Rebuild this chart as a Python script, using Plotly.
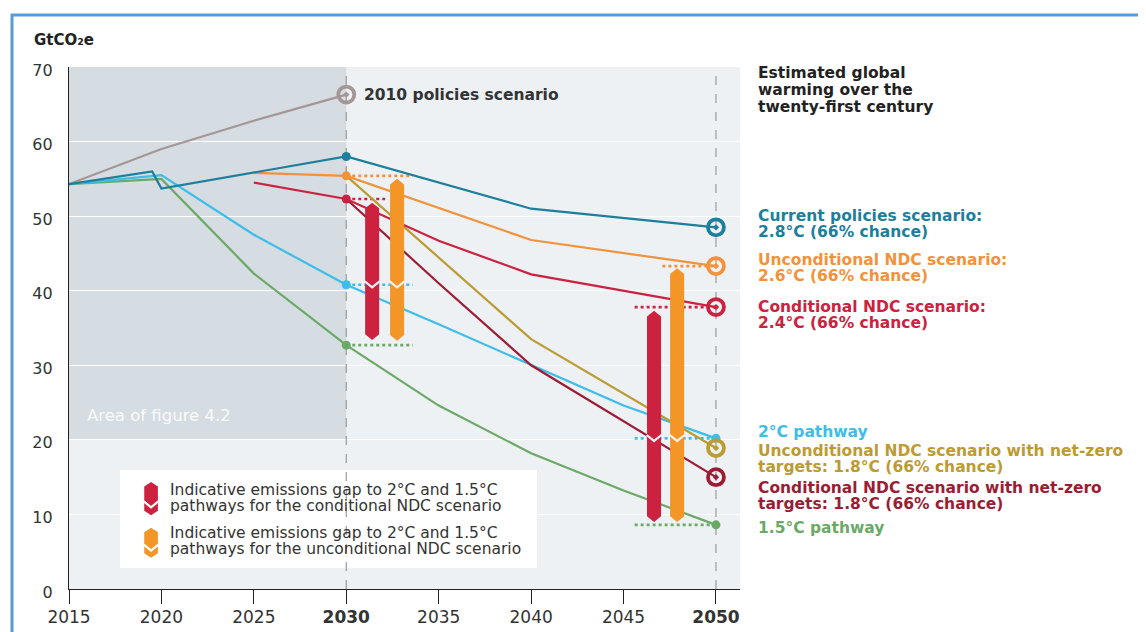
import plotly.graph_objects as go

# ---------------- data ----------------
years_policies2010 = [2015, 2020, 2025, 2030]
vals_policies2010 = [54.3, 59.0, 62.8, 66.3]

years_current = [2015, 2019.5, 2020, 2030, 2040, 2050]
vals_current = [54.3, 56.0, 53.7, 58.0, 51.0, 48.5]

years_uncond = [2025, 2030, 2040, 2050]
vals_uncond = [55.8, 55.4, 46.8, 43.3]

years_cond = [2025, 2030, 2035, 2040, 2050]
vals_cond = [54.5, 52.3, 46.7, 42.2, 37.8]

years_2c = [2015, 2020, 2025, 2030, 2035, 2040, 2045, 2050]
vals_2c = [54.3, 55.5, 47.5, 40.8, 35.5, 30.0, 24.6, 20.2]

years_15c = [2015, 2020, 2025, 2030, 2035, 2040, 2045, 2050]
vals_15c = [54.3, 55.0, 42.3, 32.7, 24.6, 18.2, 13.2, 8.6]

years_uncond_nz = [2030, 2035, 2040, 2050]
vals_uncond_nz = [55.4, 44.5, 33.5, 18.9]

years_cond_nz = [2030, 2035, 2040, 2050]
vals_cond_nz = [52.3, 41.0, 30.0, 15.0]

# gap bars: centre year, low, high; notch at the 2°C level
gap_cond_x = [2031.4, 2046.65]
gap_cond_low = [33.4, 9.0]
gap_cond_high = [51.8, 37.3]
gap_uncond_x = [2032.75, 2047.9]
gap_uncond_low = [33.3, 9.0]
gap_uncond_high = [55.0, 43.0]
gap_notch = [40.8, 20.2]

x_ticks = [2015, 2020, 2025, 2030, 2035, 2040, 2045, 2050]
x_ticktext = ["2015", "2020", "2025", "<b>2030</b>", "2035", "2040", "2045", "<b>2050</b>"]
y_ticks = [0, 10, 20, 30, 40, 50, 60, 70]

# ---------------- colours ----------------
C_GREY = "#a39694"
C_TEAL = "#1c7f9b"
C_ORANGE = "#f2923a"
C_RED = "#cc2240"
C_BLUE = "#3dbde9"
C_GREEN = "#6aaa66"
C_OLIVE = "#bb9b32"
C_DRED = "#9c1c34"
C_BAR_RED = "#cc2240"
C_BAR_ORANGE = "#f39527"
BG = "#edf1f4"
FONT = "DejaVu Sans"

# plot area in page pixels (page has an 8px body margin)
OFF = 8
L, R, T, B = 69, 740, 67, 589
W, H = 1146 - OFF, 632 - OFF
X0, X1 = 2015, 2051.3
DY = 1  # small downward nudge for annotation text


def px(xpage):
    return (xpage - L) / (R - L)


def py(ypage):
    return (B - ypage) / (B - T)


fig = go.Figure()


def line(xs, ys, color, width=2.2):
    fig.add_trace(go.Scatter(x=xs, y=ys, mode="lines",
                             line=dict(color=color, width=width),
                             hoverinfo="skip", showlegend=False))


def dotted(x0, x1, y, color):
    fig.add_trace(go.Scatter(x=[x0, x1], y=[y, y], mode="lines",
                             line=dict(color=color, width=2.6, dash="dot"),
                             hoverinfo="skip", showlegend=False))


def dot(x, y, color, size=9):
    fig.add_trace(go.Scatter(x=[x], y=[y], mode="markers",
                             marker=dict(color=color, size=size),
                             hoverinfo="skip", showlegend=False))


def ring(x, y, color):
    fig.add_trace(go.Scatter(x=[x], y=[y], mode="markers",
                             marker=dict(symbol="circle-open-dot", color=color, size=16,
                                         line=dict(color=color, width=3.8)),
                             hoverinfo="skip", showlegend=False))


def hexbar(xc, lo, hi, notch, color, notch_col, hw=0.38, tip=0.75):
    xs = [xc - hw, xc, xc + hw, xc + hw, xc, xc - hw, xc - hw]
    ys = [lo + tip, lo, lo + tip, hi - tip, hi, hi - tip, lo + tip]
    fig.add_trace(go.Scatter(x=xs, y=ys, mode="lines", fill="toself",
                             fillcolor=color, line=dict(color=color, width=0),
                             hoverinfo="skip", showlegend=False))
    fig.add_trace(go.Scatter(x=[xc - hw - 0.02, xc, xc + hw + 0.02],
                             y=[notch + 0.45, notch - 0.35, notch + 0.45],
                             mode="lines", line=dict(color=notch_col, width=2.2),
                             hoverinfo="skip", showlegend=False))


# dotted reference lines near 2030 and 2050
dotted(2030, 2033.6, vals_uncond[1], C_ORANGE)
dotted(2030, 2032.1, vals_cond[1], C_RED)
dotted(2030, 2033.6, vals_2c[3], C_BLUE)
dotted(2030, 2033.6, vals_15c[3], C_GREEN)
dotted(2047.1, 2050, vals_uncond[-1], C_ORANGE)
dotted(2045.6, 2050, vals_cond[-1], C_RED)
dotted(2045.6, 2050, vals_2c[-1], C_BLUE)
dotted(2045.6, 2050, vals_15c[-1], C_GREEN)

# scenario lines
line(years_policies2010, vals_policies2010, C_GREY)
line(years_15c, vals_15c, C_GREEN)
line(years_2c, vals_2c, C_BLUE)
line(years_cond_nz, vals_cond_nz, C_DRED)
line(years_uncond_nz, vals_uncond_nz, C_OLIVE)
line(years_cond, vals_cond, C_RED)
line(years_uncond, vals_uncond, C_ORANGE)
line(years_current, vals_current, C_TEAL)

# gap bars
for i in range(2):
    hexbar(gap_cond_x[i], gap_cond_low[i], gap_cond_high[i], gap_notch[i], C_BAR_RED, BG)
    hexbar(gap_uncond_x[i], gap_uncond_low[i], gap_uncond_high[i], gap_notch[i], C_BAR_ORANGE, BG)

# dots at 2030 / 2050
dot(2030, vals_current[3], C_TEAL)
dot(2030, vals_uncond[1], C_ORANGE)
dot(2030, vals_cond[1], C_RED)
dot(2030, vals_2c[3], C_BLUE)
dot(2030, vals_15c[3], C_GREEN)
dot(2050, vals_2c[-1], C_BLUE)
dot(2050, vals_15c[-1], C_GREEN)

# rings
ring(2030, vals_policies2010[-1], C_GREY)
ring(2050, vals_current[-1], C_TEAL)
ring(2050, vals_uncond[-1], C_ORANGE)
ring(2050, vals_cond[-1], C_RED)
ring(2050, vals_uncond_nz[-1], C_OLIVE)
ring(2050, vals_cond_nz[-1], C_DRED)

# legend icons (inside the white legend box)
legend_icon_x = 2019.44
legend_icon_lo = [9.9, 4.2]
legend_icon_hi = [14.35, 8.2]
for lo, hi, col in zip(legend_icon_lo, legend_icon_hi, [C_BAR_RED, C_BAR_ORANGE]):
    hexbar(legend_icon_x, lo, hi, lo + 0.25 * (hi - lo) + 0.3, col, "white", hw=0.37, tip=0.6)

shapes = [
    # area of figure 4.2
    dict(type="rect", xref="x", yref="y", x0=2015, x1=2030, y0=20, y1=70,
         fillcolor="#d5dce2", line=dict(width=0), layer="below"),
    # vertical dashed lines
    dict(type="line", xref="x", yref="y", x0=2030, x1=2030, y0=0, y1=70,
         line=dict(color="#9a9a9a", width=1.2, dash="dash"), layer="between"),
    dict(type="line", xref="x", yref="y", x0=2050, x1=2050, y0=0, y1=70,
         line=dict(color="#9a9a9a", width=1.2, dash="dash"), layer="between"),
    # legend box
    dict(type="rect", xref="paper", yref="paper", x0=px(120), x1=px(537), y0=py(568), y1=py(470),
         fillcolor="white", line=dict(width=0), layer="between"),
    # outer blue frame
    dict(type="line", xref="paper", yref="paper", x0=px(12), x1=px(12), y0=py(640), y1=py(14),
         line=dict(color="#5b9bd5", width=3)),
    dict(type="line", xref="paper", yref="paper", x0=px(11), x1=px(1150), y0=py(15), y1=py(15),
         line=dict(color="#5b9bd5", width=3)),
]

annotations = []


def txt(x, y, text, color, size=15.5, bold=True):
    annotations.append(dict(xref="paper", yref="paper", x=px(x), y=py(y + DY),
                            text=f"<b>{text}</b>" if bold else text,
                            showarrow=False, xanchor="left", yanchor="middle",
                            align="left",
                            font=dict(family=FONT, size=size, color=color)))


txt(32, 39, "GtCO₂e", "#222", size=15)
txt(362, 94, "2010 policies scenario", "#333", size=15.5)
txt(756, 72, "Estimated global", "#222")
txt(756, 89, "warming over the", "#222")
txt(756, 106, "twenty-first century", "#222")
txt(756, 215, "Current policies scenario:", C_TEAL)
txt(756, 231, "2.8°C (66% chance)", C_TEAL)
txt(756, 259, "Unconditional NDC scenario:", C_ORANGE)
txt(756, 275, "2.6°C (66% chance)", C_ORANGE)
txt(756, 306, "Conditional NDC scenario:", C_RED)
txt(756, 322, "2.4°C (66% chance)", C_RED)
txt(756, 431, "2°C pathway", C_BLUE)
txt(756, 450, "Unconditional NDC scenario with net-zero", C_OLIVE)
txt(756, 466, "targets: 1.8°C (66% chance)", C_OLIVE)
txt(756, 487, "Conditional NDC scenario with net-zero", C_DRED)
txt(756, 503, "targets: 1.8°C (66% chance)", C_DRED)
txt(756, 527, "1.5°C pathway", C_GREEN)
txt(85, 414, "Area of figure 4.2", "rgba(255,255,255,0.9)", size=16.5, bold=False)
txt(168, 489, "Indicative emissions gap to 2°C and 1.5°C", "#333", size=15.5, bold=False)
txt(168, 505, "pathways for the conditional NDC scenario", "#333", size=15.5, bold=False)
txt(168, 532, "Indicative emissions gap to 2°C and 1.5°C", "#333", size=15.5, bold=False)
txt(168, 548, "pathways for the unconditional NDC scenario", "#333", size=15.5, bold=False)

fig.update_layout(
    width=W, height=H,
    margin=dict(l=L - OFF, r=(1146 - R), t=T - OFF, b=(632 - B), pad=0),
    paper_bgcolor="white",
    plot_bgcolor=BG,
    shapes=shapes,
    annotations=annotations,
    showlegend=False,
    font=dict(family=FONT, size=15, color="#333"),
    xaxis=dict(range=[X0, X1], tickvals=x_ticks, ticktext=x_ticktext, automargin=False,
               showgrid=False, zeroline=False, showline=True, linecolor="#222", linewidth=1.3,
               ticks="outside", ticklen=14, tickcolor="#222", tickwidth=1,
               ticklabelstandoff=-2,
               tickfont=dict(family=FONT, size=17, color="#333")),
    yaxis=dict(range=[0, 70], tickvals=y_ticks, automargin=False,
               showgrid=True, gridcolor="white", gridwidth=1.2,
               zeroline=False, showline=True, linecolor="#222", linewidth=1.3,
               ticks="", ticklabelstandoff=12, ticklabelshift=3,
               tickfont=dict(family=FONT, size=16, color="#333")),
)

fig.write_html("out.html")
